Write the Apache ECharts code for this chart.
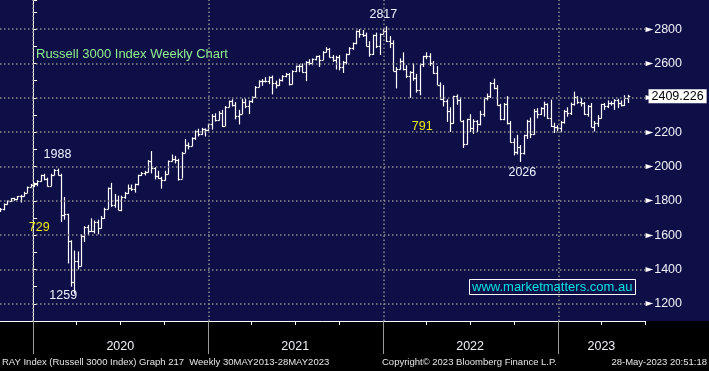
<!DOCTYPE html>
<html><head><meta charset="utf-8">
<script src="https://cdn.jsdelivr.net/npm/echarts@6/dist/echarts.min.js"></script>
<style>
html,body{margin:0;padding:0;}
body{background:linear-gradient(to bottom,#0f0f48 0,#0f0f48 321px,#000 321px,#000 100%);}
#c{width:709px;height:371px;}
</style></head><body><div id="c"></div>
<script>
// ---- data (weekly bars, first bar week ending Fri 25 Oct 2019) ----
const firstWeek = '2019-10-25';
const opens = [
1740,1752,1781,1798,1814,1808,1826,1831,1847,1881,
1895,1897,1915,1948,1927,1887,1952,1982,1952,1720,1723,1567,1327,1452,1420,1594,1648,1626,1627,1679,1641,1698,1754,1873,1773,1806,1749,1820,1846,1875,1870,1896,1948,1961,1969,2034,1992,1942,1935,1923,1958,2033,2043,2038,1929,2076,2128,2118,2165,2208,2187,2217,
2213,2245,2297,2270,2314,2237,2349,2380,2361,2296,2308,2375,2350,2380,2404,2465,2499,2496,2496,2520,2485,2474,2505,2525,2536,2480,2556,2583,2586,2553,2611,2601,2625,2641,2621,2668,2687,2638,2623,2636,2578,2606,2653,2689,2717,2788,2771,2764,2703,2654,2764,2702,2772,
2787,2732,2719,2557,2569,2616,2569,2528,2549,2517,2444,2595,2641,2643,2602,2547,2477,2395,2383,2326,2255,2410,2389,2268,2130,2274,2224,2267,2246,2303,2401,2410,2488,2458,2359,2279,2365,2252,2145,2082,2114,2080,2181,2268,2190,2322,2303,2341,2365,2285,2237,2233,
2226,2258,2322,2310,2367,2405,2378,2372,2308,2352,2232,2251,2282,2362,2352,2371,2369,2389,2370,2357,2402];
const highs = [
1758,1785,1802,1816,1818,1828,1835,1853,1883,1898,
1906,1920,1952,1958,1935,1958,1985,1988,1958,1823,1725,1570,1510,1505,1605,1652,1660,1698,1685,1690,1712,1760,1878,1905,1840,1830,1830,1852,1895,1895,1900,1952,1968,1975,2038,2090,1995,1975,1940,1975,2035,2070,2062,2045,2085,2160,2140,2170,2210,2220,2225,2222,
2250,2305,2310,2322,2330,2352,2384,2392,2375,2330,2395,2395,2385,2408,2468,2502,2510,2520,2525,2530,2500,2512,2532,2545,2545,2560,2588,2595,2600,2614,2625,2630,2645,2648,2672,2695,2690,2650,2645,2650,2615,2658,2695,2722,2792,2800,2795,2780,2730,2768,2780,2775,2800,
2817,2760,2735,2580,2630,2665,2590,2555,2600,2540,2600,2645,2665,2660,2615,2585,2490,2475,2392,2345,2412,2420,2405,2270,2278,2305,2275,2270,2325,2405,2425,2492,2512,2475,2365,2370,2410,2265,2165,2185,2125,2185,2272,2285,2335,2340,2345,2378,2368,2390,2255,2240,
2265,2330,2345,2372,2436,2410,2400,2375,2358,2370,2265,2300,2365,2370,2385,2380,2392,2395,2385,2415,2418];
const lows = [
1735,1745,1778,1795,1800,1806,1790,1825,1845,1878,
1880,1885,1912,1920,1884,1885,1948,1948,1677,1690,1435,1300,1259,1400,1418,1560,1600,1620,1610,1605,1638,1696,1752,1765,1760,1745,1740,1812,1840,1858,1848,1890,1945,1948,1965,1960,1925,1928,1871,1918,1955,2030,2018,1918,1930,2080,2100,2118,2155,2175,2185,2175,
2208,2215,2262,2268,2230,2236,2345,2350,2275,2245,2305,2340,2305,2370,2402,2462,2470,2490,2480,2420,2455,2470,2495,2520,2472,2478,2550,2550,2548,2497,2590,2590,2618,2580,2620,2665,2636,2610,2565,2560,2545,2595,2650,2680,2712,2750,2755,2700,2640,2650,2690,2650,2770,
2725,2690,2555,2455,2565,2560,2515,2400,2500,2430,2415,2580,2625,2585,2540,2475,2390,2350,2260,2202,2250,2360,2265,2108,2128,2200,2190,2200,2240,2290,2385,2400,2450,2355,2270,2270,2245,2140,2065,2070,2026,2070,2160,2165,2185,2280,2300,2290,2278,2230,2195,2205,
2200,2250,2290,2300,2355,2365,2350,2300,2290,2230,2204,2230,2280,2330,2340,2355,2330,2340,2350,2352,2370];
const closes = [
1752,1781,1798,1814,1808,1826,1831,1847,1881,1895,
1897,1915,1948,1927,1887,1952,1982,1952,1720,1723,1567,1327,1452,1418,1594,1648,1626,1627,1679,1641,1698,1754,1873,1773,1806,1749,1820,1846,1875,1870,1896,1948,1961,1969,2034,1992,1942,1935,1923,1958,2033,2043,2038,1929,2076,2128,2118,2165,2208,2187,2217,2213,
2245,2297,2270,2314,2237,2349,2380,2361,2296,2308,2375,2350,2380,2404,2465,2499,2496,2496,2520,2485,2474,2505,2525,2536,2480,2556,2583,2586,2553,2611,2601,2625,2641,2621,2668,2687,2638,2623,2636,2578,2606,2653,2689,2717,2788,2771,2764,2703,2654,2764,2702,2772,2787,
2732,2719,2557,2569,2616,2569,2528,2549,2517,2444,2595,2641,2643,2602,2547,2477,2395,2383,2326,2255,2410,2389,2268,2130,2274,2224,2267,2246,2303,2401,2410,2488,2458,2359,2279,2365,2252,2145,2082,2114,2080,2181,2268,2190,2322,2303,2341,2365,2285,2237,2233,2226,
2258,2322,2310,2367,2405,2378,2372,2308,2352,2232,2251,2282,2362,2352,2371,2369,2389,2370,2357,2402,2409.226];
const yearLabels = ['2020','2021','2022','2023'];
const priceTicks = [1200,1400,1600,1800,2000,2200,2400,2600,2800];
const lastPrice = 2409.226;
const annotations = [
  {text:'2817', date:'2022-01-01', value:2888, color:'#eef2ff'},
  {text:'1988', date:'2020-02-21', value:2067, color:'#eef2ff'},
  {text:'1259', date:'2020-03-04', value:1246, color:'#eef2ff'},
  {text:'2026', date:'2022-10-18', value:1962, color:'#eef2ff'},
  {text:'729',  date:'2020-01-14', value:1642, color:'#eaea10'},
  {text:'791',  date:'2022-03-23', value:2230, color:'#eaea10'}
];

// ---- helpers ----
const DAY = 86400000;
const BASE = Date.UTC(2020,0,1);
const dayOf = s => { const p = s.split('-').map(Number); return (Date.UTC(p[0],p[1]-1,p[2]) - BASE)/DAY; };
const d0 = dayOf(firstWeek);
const bars = closes.map((c,i) => [d0 + 7*i, opens[i], highs[i], lows[i], c]);
const yearStartDays = yearLabels.map(y => dayOf(y+'-01-01'));
const quarterDays = [];
yearLabels.forEach(y => ['01','04','07','10'].forEach(m => quarterDays.push(dayOf(y+'-'+m+'-01'))));
const labelDays = [dayOf('2020-07-01'), dayOf('2021-07-01'), dayOf('2022-07-01'), dayOf('2023-04-01')];
const yearOfDay = v => String(new Date(BASE + v*DAY + 12*3600000).getUTCFullYear());

function renderItem(params, api) {
  const x = api.value(0);
  const o = api.coord([x, api.value(1)]);
  const h = api.coord([x, api.value(2)]);
  const l = api.coord([x, api.value(3)]);
  const c = api.coord([x, api.value(4)]);
  const px = Math.round(h[0]) + 0.5;
  const st = {stroke:'#ffffff', lineWidth:1.2};
  return {type:'group', children:[
    {type:'line', shape:{x1:px, y1:h[1], x2:px, y2:l[1]}, style:st},
    {type:'line', shape:{x1:px-1.8, y1:Math.round(o[1])+0.5, x2:px, y2:Math.round(o[1])+0.5}, style:st},
    {type:'line', shape:{x1:px, y1:Math.round(c[1])+0.5, x2:px+1.8, y2:Math.round(c[1])+0.5}, style:st}
  ]};
}

const FONT = '"Liberation Sans", Arial, sans-serif';
const chart = echarts.init(document.getElementById('c'), null, {renderer:'canvas'});
chart.setOption({
  backgroundColor:'transparent',
  animation:false,
  title:[
    {text:'Russell 3000 Index Weekly Chart', left:36, top:48, padding:0,
     textStyle:{color:'#90ee90', fontSize:13, fontWeight:'normal', fontFamily:FONT}},
    {text:'www.marketmatters.com.au', left:469, top:279, padding:[2,3,1,3], borderColor:'#ffffff', borderWidth:1,
     textStyle:{color:'#00e2e2', fontSize:13, fontWeight:'normal', fontFamily:FONT}}
  ],
  grid:{left:0, right:63.5, top:0, bottom:50, containLabel:false},
  xAxis:[{
    type:'value', min:-69, max:1278, position:'bottom',
    axisLine:{show:true, lineStyle:{color:'#ffffff', width:1}},
    axisTick:{show:true, length:4, customValues:quarterDays, lineStyle:{color:'#ffffff'}},
    axisLabel:{show:true, customValues:labelDays, formatter:yearOfDay, margin:19, color:'#f0f0f8', fontSize:12.5, fontFamily:FONT},
    splitLine:{show:false}
  },{
    type:'value', min:-69, max:1278, position:'bottom',
    axisLine:{show:false},
    axisTick:{show:true, length:33, customValues:yearStartDays, lineStyle:{color:'#9a9a9a', width:1}},
    axisLabel:{show:false},
    splitLine:{show:false}
  }],
  yAxis:{
    type:'value', position:'right', min:1100, max:2970, interval:100,
    axisLine:{show:true, lineStyle:{color:'#ffffff', width:1}},
    axisTick:{show:true, length:4, inside:false, lineStyle:{color:'#ffffff'}},
    axisLabel:{
      margin:0,
      formatter: v => priceTicks.indexOf(v) >= 0 ? '{t|\u25BA}{v|' + v + '}' : '',
      rich:{
        t:{color:'#ffffff', fontSize:10, fontFamily:'"DejaVu Sans"', padding:[0,1,0,0]},
        v:{color:'#f0f0f8', fontSize:12.5, fontFamily:FONT}
      }
    },
    splitLine:{show:false}
  },
  series:[{
    type:'custom', renderItem:renderItem, data:bars, clip:true,
    encode:{x:0, y:[1,2,3,4]},
    markLine:{
      silent:true, symbol:['none','none'], animation:false,
      lineStyle:{color:'#8e8e8e', type:[1.5,2.5], width:1.5},
      label:{show:false},
      data:[
        ...yearStartDays.map(d => ({xAxis:d})),
        ...priceTicks.map(v => ({yAxis:v}))
      ]
    },
    markPoint:{
      symbol:'circle', symbolSize:0, animation:false, silent:true,
      data: annotations.map(a => ({coord:[dayOf(a.date), a.value],
        label:{show:true, position:'inside', formatter:a.text, color:a.color, fontSize:12.5, fontFamily:FONT}}))
      .concat([{coord:[1278, lastPrice],
        label:{show:true, position:'right', distance:3, formatter:String(lastPrice),
               backgroundColor:'#ffffff', color:'#000000', fontSize:12.5, fontFamily:FONT, padding:[1,3,0,3]}}])
    }
  }],
  graphic:[
    {type:'text', left:2, top:357, style:{text:'RAY Index (Russell 3000 Index) Graph 217  Weekly 30MAY2013-28MAY2023', fill:'#e6e6e6', font:'9.5px ' + FONT}},
    {type:'text', left:382, top:357, style:{text:'Copyright\u00A9 2023 Bloomberg Finance L.P.', fill:'#e6e6e6', font:'9.5px ' + FONT}},
    {type:'text', right:2, top:357, style:{text:'28-May-2023 20:51:18', fill:'#e6e6e6', font:'9.5px ' + FONT}}
  ]
});
</script>
</body></html>
